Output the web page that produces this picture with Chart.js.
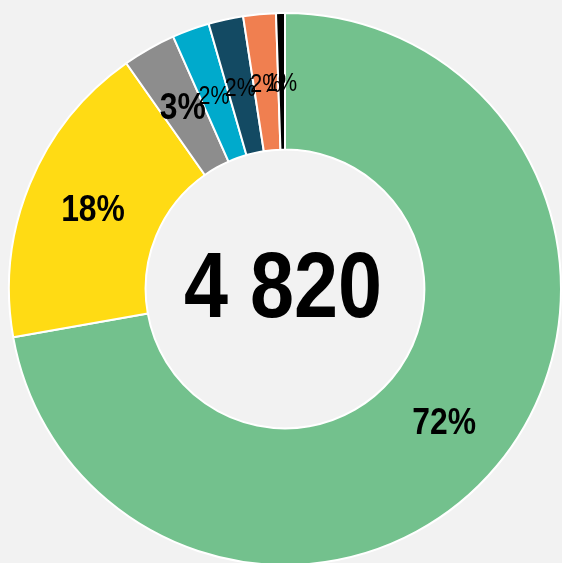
<!DOCTYPE html>
<html>
<head>
<meta charset="utf-8">
<script src="https://cdn.jsdelivr.net/npm/chart.js"></script>
<style>
  html, body { margin: 0; padding: 0; background: #f2f2f2; overflow: hidden; }
  #wrap { position: absolute; left: 0; top: 12px; width: 570px; height: 554px; }
</style>
</head>
<body>
<div id="wrap"><canvas id="donut"></canvas></div>
<script>
// categories and counts (total 4 820)
const categories = ['A', 'B', 'C', 'D', 'E', 'F', 'G'];
const counts = [3480, 870, 150, 105, 98, 92, 25];
const colors = ['#73c18d', '#ffdb14', '#8d8d8d', '#00aacc', '#134a63', '#f07f50', '#000000'];

// no narrow font installed, so squeeze Liberation Sans horizontally
const FONT = "'Liberation Sans', Arial, sans-serif";
const SQUEEZE = 0.86;
let total = counts.reduce((a, b) => a + b, 0);

function fmtTotal(n) {
    return n.toString().replace(/\B(?=(\d{3})+(?!\d))/g, ' ');
}

function narrowText(ctx, text, x, y) {
    ctx.save();
    ctx.translate(x, y);
    ctx.scale(SQUEEZE, 1);
    ctx.fillText(text, 0, 0);
    ctx.restore();
}

// draws the percentage on each slice and the total in the hole
const sliceLabels = {
    id: 'sliceLabels',
    afterDatasetsDraw(chart) {
        let ctx = chart.ctx;
        let arcs = chart.getDatasetMeta(0).data;
        ctx.save();
        ctx.textAlign = 'center';
        ctx.textBaseline = 'middle';
        ctx.fillStyle = '#000';
        arcs.forEach(function(arc, i) {
            let share = counts[i] / total * 100;
            let p = arc.getCenterPoint();
            if (share >= 3) {
                ctx.font = 'bold 37px ' + FONT;
                narrowText(ctx, Math.round(share) + '%', p.x, p.y + 1);
            } else {
                ctx.font = '25px ' + FONT;
                narrowText(ctx, Math.round(share) + '%', p.x, p.y + 3);
            }
        });
        let c = arcs[0];
        ctx.font = 'bold 92px ' + FONT;
        narrowText(ctx, fmtTotal(total), c.x - 2, c.y + 3);
        ctx.restore();
    }
};

new Chart(document.getElementById('donut'), {
    type: 'doughnut',
    data: {
        labels: categories,
        datasets: [{
            data: counts,
            backgroundColor: colors,
            borderColor: '#ffffff',
            borderWidth: 2
        }]
    },
    options: {
        responsive: true,
        maintainAspectRatio: false,
        animation: false,
        cutout: '50.5%',
        layout: { padding: 0 },
        plugins: {
            legend: { display: false },
            tooltip: { enabled: false }
        }
    },
    plugins: [sliceLabels]
});
</script>
</body>
</html>
